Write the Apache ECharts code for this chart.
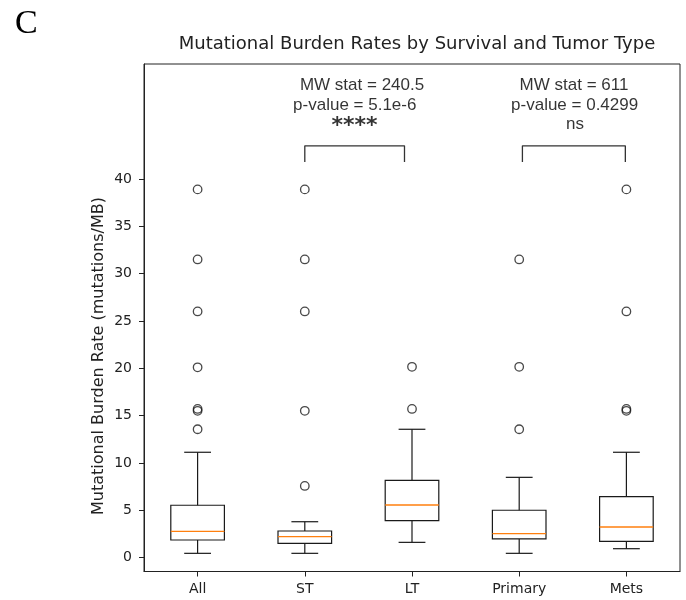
<!DOCTYPE html>
<html>
<head>
<meta charset="utf-8">
<script src="https://cdn.jsdelivr.net/npm/echarts@6/dist/echarts.min.js"></script>
<style>
  html, body { margin: 0; padding: 0; background: #fff; }
  #chart { width: 686px; height: 600px; }
</style>
</head>
<body>
<div id="chart"></div>
<script>
// Groups along the x axis
const categories = ['All', 'ST', 'LT', 'Primary', 'Mets'];

// Five-number summaries per group: [lower whisker, Q1, median, Q3, upper whisker]
const boxAll     = [0.44, 1.85, 2.77, 5.52, 11.12];
const boxST      = [0.44, 1.50, 2.20, 2.80, 3.78];
const boxLT      = [1.60, 3.89, 5.55, 8.16, 13.55];
const boxPrimary = [0.44, 1.96, 2.52, 4.99, 8.47];
const boxMets    = [0.93, 1.71, 3.22, 6.43, 11.12];

// Outlying samples per group
const outAll     = [13.55, 15.5, 15.7, 20.1, 26.0, 31.5, 38.9];
const outST      = [7.56, 15.5, 26.0, 31.5, 38.9];
const outLT      = [15.7, 20.15];
const outPrimary = [13.55, 20.15, 31.5];
const outMets    = [15.5, 15.7, 26.0, 38.9];

// Y tick labels
const yTicks = [0, 5, 10, 15, 20, 25, 30, 35, 40];

// Mann-Whitney comparisons: pair of groups and text printed above the bracket
const compST_LT = ['ST', 'LT'];
const textST_LT = ['MW stat = 240.5', 'p-value = 5.1e-6', '****'];
const compPrimMets = ['Primary', 'Mets'];
const textPrimMets = ['MW stat = 611', 'p-value = 0.4299', 'ns'];

const boxes = [boxAll, boxST, boxLT, boxPrimary, boxMets];
const outliers = [outAll, outST, outLT, outPrimary, outMets];
const pos = name => categories.indexOf(name) + 1;

const boxData = boxes.map((b, i) => [i + 1].concat(b));
const outlierData = [];
outliers.forEach((arr, i) => arr.forEach(v => outlierData.push([i + 1, v])));

// bracket layout (in axis units)
const bracketLow = 41.8, bracketHigh = 43.5;
function bracket(x1, x2) {
  return [[x1, bracketLow], [x1, bracketHigh], [x2, bracketHigh], [x2, bracketLow]];
}
const leftBracket = bracket(pos(compST_LT[0]), pos(compST_LT[1]) - 0.07);
const rightBracket = bracket(pos(compPrimMets[0]) + 0.03, pos(compPrimMets[1]) - 0.01);

// text anchors for the statistics (x offset from the first group, y in axis units)
const statLayout = [
  [0.534, 49.95], [0.466, 47.8], [0.464, 45.55]
];
const statLayoutRight = [
  [0.511, 49.95], [0.517, 47.8], [0.52, 45.8]
];
const statStyles = [
  {}, {},
  { fontFamily: 'DejaVu Sans', fontWeight: 'bold', fontSize: 22 }
];
const statLabels = [];
textST_LT.forEach((t, i) => statLabels.push({
  value: [pos(compST_LT[0]) + statLayout[i][0], statLayout[i][1]],
  label: Object.assign({ formatter: t }, statStyles[i])
}));
textPrimMets.forEach((t, i) => statLabels.push({
  value: [pos(compPrimMets[0]) + statLayoutRight[i][0], statLayoutRight[i][1]],
  label: { formatter: t }
}));

const chart = echarts.init(document.getElementById('chart'), null, { renderer: 'canvas' });

const tickFont = { fontFamily: 'DejaVu Sans', fontSize: 14, color: '#222' };

const option = {
  backgroundColor: '#fff',
  animation: false,
  grid: {
    left: 144, right: 6, top: 64, bottom: 28.5,
    show: true, borderColor: '#222', borderWidth: 1, backgroundColor: 'transparent'
  },
  xAxis: {
    type: 'value', min: 0.5, max: 5.5,
    splitLine: { show: false },
    axisLine: { show: true, onZero: false, lineStyle: { color: '#222', width: 1 } },
    axisTick: { show: true, length: 5, lineStyle: { color: '#222' }, customValues: [1, 2, 3, 4, 5] },
    axisLabel: Object.assign({
      margin: 11,
      customValues: [1, 2, 3, 4, 5],
      formatter: v => categories[Math.round(v) - 1] || ''
    }, tickFont)
  },
  yAxis: {
    type: 'value', min: -1.48, max: 52.15,
    splitLine: { show: false },
    axisLine: { show: true, onZero: false, lineStyle: { color: '#222', width: 1 } },
    axisTick: { show: true, length: 5, lineStyle: { color: '#222' }, customValues: yTicks },
    axisLabel: Object.assign({ margin: 12, customValues: yTicks }, tickFont)
  },
  graphic: [
    {
      type: 'text', left: 15, top: 7,
      style: { text: 'C', fontFamily: 'Liberation Serif', fontSize: 34, fill: '#000' }
    },
    {
      type: 'text', x: 417, y: 44,
      style: {
        text: 'Mutational Burden Rates by Survival and Tumor Type',
        fontFamily: 'DejaVu Sans', fontSize: 18, fill: '#222',
        align: 'center', verticalAlign: 'middle'
      }
    },
    {
      type: 'text', x: 99, y: 356, rotation: Math.PI / 2,
      style: {
        text: 'Mutational Burden Rate (mutations/MB)',
        fontFamily: 'DejaVu Sans', fontSize: 16, fill: '#222',
        align: 'center', verticalAlign: 'middle'
      }
    }
  ],
  series: [
    {
      type: 'custom',
      name: 'boxes',
      data: boxData,
      encode: { x: 0, y: [1, 2, 3, 4, 5] },
      renderItem: function (params, api) {
        const x = api.value(0);
        const lo = api.value(1), q1 = api.value(2), med = api.value(3), q3 = api.value(4), hi = api.value(5);
        const hw = 0.25, cw = 0.125;
        const pL = api.coord([x - hw, q3]);
        const pR = api.coord([x + hw, q1]);
        const c = api.coord([x, 0])[0];
        const capL = api.coord([x - cw, 0])[0];
        const capR = api.coord([x + cw, 0])[0];
        const yLo = api.coord([x, lo])[1], yHi = api.coord([x, hi])[1];
        const yQ1 = api.coord([x, q1])[1], yQ3 = api.coord([x, q3])[1];
        const yMed = api.coord([x, med])[1];
        const stroke = { stroke: '#1a1a1a', lineWidth: 1.2, fill: null };
        return {
          type: 'group',
          children: [
            { type: 'line', shape: { x1: c, y1: yQ3, x2: c, y2: yHi }, style: stroke },
            { type: 'line', shape: { x1: c, y1: yQ1, x2: c, y2: yLo }, style: stroke },
            { type: 'line', shape: { x1: capL, y1: yHi, x2: capR, y2: yHi }, style: stroke },
            { type: 'line', shape: { x1: capL, y1: yLo, x2: capR, y2: yLo }, style: stroke },
            { type: 'rect', shape: { x: pL[0], y: pL[1], width: pR[0] - pL[0], height: pR[1] - pL[1] }, style: stroke },
            { type: 'line', shape: { x1: pL[0], y1: yMed, x2: pR[0], y2: yMed }, style: { stroke: '#ff7f0e', lineWidth: 1.3 } }
          ]
        };
      },
      silent: true
    },
    {
      type: 'scatter',
      name: 'outliers',
      data: outlierData,
      symbol: 'circle',
      symbolSize: 8.5,
      itemStyle: { color: 'rgba(0,0,0,0)', borderColor: '#1a1a1a', borderWidth: 1.3 },
      silent: true
    },
    {
      type: 'line', name: 'bracket-left', data: leftBracket,
      symbol: 'none', lineStyle: { color: '#333', width: 1.3 }, silent: true
    },
    {
      type: 'line', name: 'bracket-right', data: rightBracket,
      symbol: 'none', lineStyle: { color: '#333', width: 1.3 }, silent: true
    },
    {
      type: 'scatter', name: 'stats',
      data: statLabels,
      symbolSize: 1,
      itemStyle: { color: 'rgba(0,0,0,0)' },
      label: {
        show: true, position: 'inside',
        fontFamily: 'Liberation Sans', fontSize: 17, color: '#000'
      },
      silent: true
    }
  ]
};

chart.setOption(option);
</script>
</body>
</html>
